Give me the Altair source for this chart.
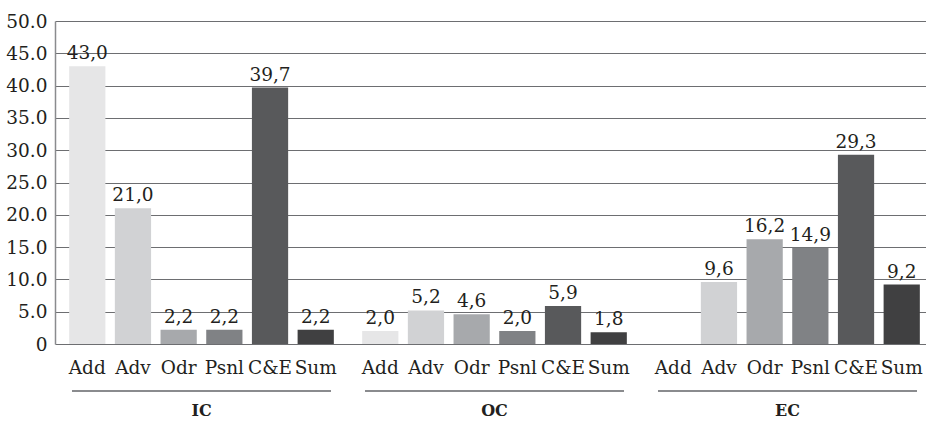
import altair as alt
import pandas as pd

# Shares (%) per activity type within each cooperation group
categories = ["Add", "Adv", "Odr", "Psnl", "C&E", "Sum"]
groups = ["IC", "OC", "EC"]
ic_values = [43.0, 21.0, 2.2, 2.2, 39.7, 2.2]
oc_values = [2.0, 5.2, 4.6, 2.0, 5.9, 1.8]
ec_values = [None, 9.6, 16.2, 14.9, 29.3, 9.2]
bar_colors = ["#e6e6e7", "#d1d2d4", "#a7a9ac", "#808285", "#58595b", "#404041"]
y_ticks = [0, 5, 10, 15, 20, 25, 30, 35, 40, 45, 50]

rows = []
for g, vals in zip(groups, [ic_values, oc_values, ec_values]):
    for c, v in zip(categories, vals):
        rows.append({"group": g, "category": c, "value": v})
df = pd.DataFrame(rows)

FONT = "DejaVu Serif"
TEXT_COLOR = "#231f20"
W, H = 871, 323

x_group = alt.X(
    "group:N",
    sort=groups,
    scale=alt.Scale(domain=groups, range=[0, 879], paddingInner=0, paddingOuter=0),
    axis=None,
)
x_offset = alt.XOffset(
    "category:N",
    sort=categories,
    scale=alt.Scale(domain=categories, paddingInner=0.207, paddingOuter=0.31),
)
y_scale = alt.Scale(domain=[0, 50], nice=False)
y_axis = alt.Axis(
    values=y_ticks,
    labelExpr="datum.value == 0 ? '0' : format(datum.value, '.1f')",
    labelOverlap=False,
    grid=True,
    gridColor="#6d6e71",
    gridWidth=1,
    domainColor="#8a8b8e",
    domainWidth=1.5,
    ticks=False,
    labelFont=FONT,
    labelFontSize=18.5,
    labelColor=TEXT_COLOR,
    labelPadding=8,
)

base = alt.Chart(df)

bars = base.transform_filter("isValid(datum.value)").mark_bar().encode(
    x=x_group,
    xOffset=x_offset,
    y=alt.Y("value:Q", scale=y_scale, title=None, axis=y_axis),
    color=alt.Color(
        "category:N",
        scale=alt.Scale(domain=categories, range=bar_colors),
        legend=None,
    ),
)

value_labels = (
    base.transform_filter("isValid(datum.value)")
    .transform_calculate(label="replace(format(datum.value, '.1f'), '.', ',')")
    .mark_text(font=FONT, fontSize=18.5, color=TEXT_COLOR, baseline="alphabetic", dy=-7)
    .encode(
        x=x_group,
        xOffset=x_offset,
        y=alt.Y("value:Q", scale=y_scale, title=None, axis=y_axis),
        text="label:N",
    )
)

category_labels = base.mark_text(
    font=FONT, fontSize=18.5, color=TEXT_COLOR, baseline="alphabetic"
).encode(x=x_group, xOffset=x_offset, y=alt.value(353), text="category:N")

group_df = pd.DataFrame({"group": groups})
group_base = alt.Chart(group_df)

underlines = group_base.mark_bar(width={"band": 0.884}, color="#8a8b8e").encode(
    x=x_group, y=alt.value(369), y2=alt.value(371)
)

group_labels = group_base.mark_text(
    font=FONT, fontSize=16, fontWeight="bold", color=TEXT_COLOR, baseline="middle"
).encode(x=x_group, y=alt.value(390), text="group:N")

chart = (
    alt.layer(bars, value_labels, category_labels, underlines, group_labels)
    .resolve_axis(y="shared")
    .properties(
        width=W,
        height=H,
        autosize=alt.AutoSizeParams(type="none"),
        padding={"left": 55, "top": 21, "right": 0, "bottom": 78},
        background="white",
    )
    .configure_view(stroke="transparent")
)

chart.save("out.html", embed_options={"renderer": "svg", "actions": False})
